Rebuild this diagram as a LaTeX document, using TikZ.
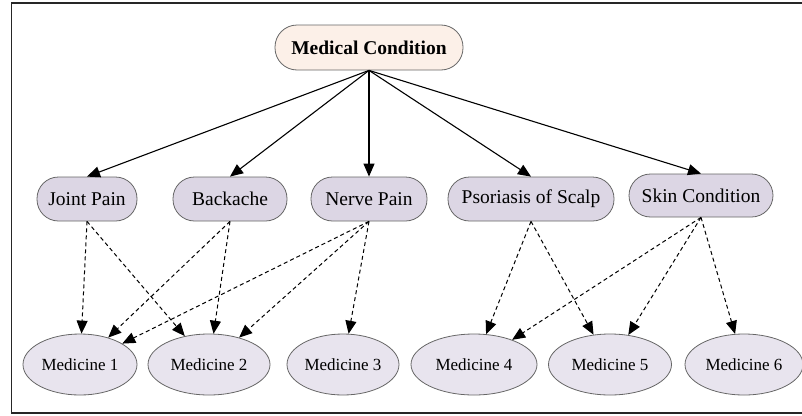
\documentclass[tikz,border=0pt]{standalone}
\usepackage{fontspec}
\setmainfont{Liberation Serif}
\usetikzlibrary{arrows.meta,shapes.geometric}
\definecolor{rootfill}{HTML}{FCF0E8}
\definecolor{midfill}{HTML}{DCD6E4}
\definecolor{lowfill}{HTML}{E8E4EE}
\definecolor{edgegrey}{HTML}{666666}
\tikzset{
  rootbox/.style={draw=edgegrey, line width=0.8pt, fill=rootfill, rounded corners=22pt,
    minimum width=188pt, minimum height=45pt, inner sep=0pt,
    font=\fontsize{19.5}{22}\selectfont\bfseries},
  midbox/.style={draw=edgegrey, line width=0.8pt, fill=midfill, rounded corners=21.5pt,
    minimum height=44pt, inner sep=0pt, font=\fontsize{19.5}{22}\selectfont},
  medell/.style={draw=edgegrey, line width=0.8pt, fill=lowfill, ellipse, inner sep=0pt,
    minimum height=61pt, font=\fontsize{17}{20}\selectfont},
  solidarrow/.style={line width=1.1pt, -{Triangle[length=13pt,width=11pt]}},
  dasharrow/.style={line width=1pt, dash pattern=on 4pt off 3pt, -{Triangle[length=13pt,width=11pt]}},
}
\begin{document}
\begin{tikzpicture}[x=1pt,y=-1pt]
\useasboundingbox (0,0) rectangle (802,415);
\draw[line width=1.6pt, draw=black!85] (11.5,3) rectangle (806,413);

\node[rootbox] (mc) at (369,47.5) {Medical Condition};

\node[midbox, minimum width=100pt] (jp) at (87,199) {Joint Pain};
\node[midbox, minimum width=114pt] (ba) at (230,199) {Backache};
\node[midbox, minimum width=116pt] (np) at (369,199) {Nerve Pain};
\node[midbox, minimum width=166pt] (ps) at (531,199) {Psoriasis of Scalp};
\node[midbox, minimum width=144pt, minimum height=43pt] (sc) at (701,195.5) {Skin Condition};

\node[medell, minimum width=114pt] (m1) at (80,364.5) {Medicine 1};
\node[medell, minimum width=122pt] (m2) at (209,364.5) {Medicine 2};
\node[medell, minimum width=112pt] (m3) at (343,364.5) {Medicine 3};
\node[medell, minimum width=126pt] (m4) at (474,364.5) {Medicine 4};
\node[medell, minimum width=123pt] (m5) at (610,364.5) {Medicine 5};
\node[medell, minimum width=118pt] (m6) at (744,364.5) {Medicine 6};

\foreach \t in {jp,ba,np,ps,sc}
  \draw[solidarrow] (mc.south) -- (\t.north);

\draw[dasharrow] (jp.south) -- (m1);
\draw[dasharrow] (jp.south) -- (m2);
\draw[dasharrow] (ba.south) -- (m1);
\draw[dasharrow] (ba.south) -- (m2);
\draw[dasharrow] (np.south) -- (m1);
\draw[dasharrow] (np.south) -- (m2);
\draw[dasharrow] (np.south) -- (m3);
\draw[dasharrow] (ps.south) -- (m4);
\draw[dasharrow] (ps.south) -- (m5);
\draw[dasharrow] (sc.south) -- (m4);
\draw[dasharrow] (sc.south) -- (m5);
\draw[dasharrow] (sc.south) -- (m6);
\end{tikzpicture}
\end{document}
